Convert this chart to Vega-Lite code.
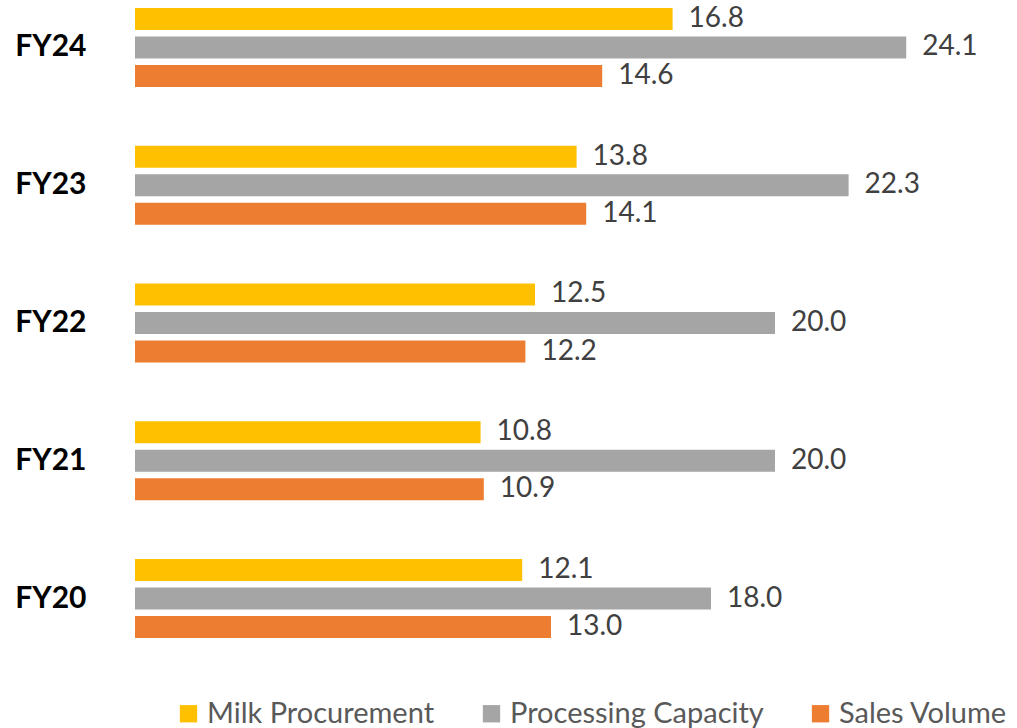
{
  "$schema": "https://vega.github.io/schema/vega-lite/v6.json",
  "autosize": {"type": "none"},
  "padding": {"left": 135, "top": 0, "right": 2, "bottom": 82},
  "width": 880,
  "height": 646,
  "background": "white",
  "config": {"view": {"stroke": null}, "font": "Lato"},
  "data": {"values": [
    {"year": "FY24", "series": "Milk Procurement", "value": 16.8},
    {"year": "FY24", "series": "Processing Capacity", "value": 24.1},
    {"year": "FY24", "series": "Sales Volume", "value": 14.6},
    {"year": "FY23", "series": "Milk Procurement", "value": 13.8},
    {"year": "FY23", "series": "Processing Capacity", "value": 22.3},
    {"year": "FY23", "series": "Sales Volume", "value": 14.1},
    {"year": "FY22", "series": "Milk Procurement", "value": 12.5},
    {"year": "FY22", "series": "Processing Capacity", "value": 20.0},
    {"year": "FY22", "series": "Sales Volume", "value": 12.2},
    {"year": "FY21", "series": "Milk Procurement", "value": 10.8},
    {"year": "FY21", "series": "Processing Capacity", "value": 20.0},
    {"year": "FY21", "series": "Sales Volume", "value": 10.9},
    {"year": "FY20", "series": "Milk Procurement", "value": 12.1},
    {"year": "FY20", "series": "Processing Capacity", "value": 18.0},
    {"year": "FY20", "series": "Sales Volume", "value": 13.0}
  ]},
  "encoding": {
    "y": {"field": "year", "type": "nominal", "sort": ["FY24", "FY23", "FY22", "FY21", "FY20"],
      "scale": {"paddingInner": 0.379, "paddingOuter": 0.034},
      "axis": {"title": null, "domain": false, "ticks": false, "labelFontSize": 30, "labelFontWeight": "bold", "labelColor": "#000000", "labelPadding": 49, "labelFont": "Lato"}},
    "yOffset": {"field": "series", "type": "nominal", "sort": ["Milk Procurement", "Processing Capacity", "Sales Volume"],
      "scale": {"paddingInner": 0.23, "paddingOuter": 0.115}},
    "x": {"field": "value", "type": "quantitative", "scale": {"domain": [0, 27.5], "nice": false}, "axis": null}
  },
  "layer": [
    {"mark": {"type": "bar"},
     "encoding": {"color": {"field": "series", "type": "nominal",
        "sort": ["Milk Procurement", "Processing Capacity", "Sales Volume"],
        "scale": {"domain": ["Milk Procurement", "Processing Capacity", "Sales Volume"], "range": ["#FFC000", "#A5A5A5", "#ED7D31"]},
        "legend": {"title": null, "orient": "none", "direction": "horizontal", "legendX": 39, "legendY": 699,
          "symbolType": "square", "symbolSize": 300, "symbolStrokeWidth": 0, "labelFontSize": 29, "labelColor": "#595959",
          "columnPadding": 42, "labelOffset": 4, "labelLimit": 400, "labelFont": "Lato", "padding": 0}}}},
    {"mark": {"type": "text", "align": "left", "baseline": "middle", "dx": 16, "fontSize": 28, "color": "#404040", "font": "Lato"},
     "encoding": {"text": {"field": "value", "type": "quantitative", "format": ".1f"}}}
  ]
}
